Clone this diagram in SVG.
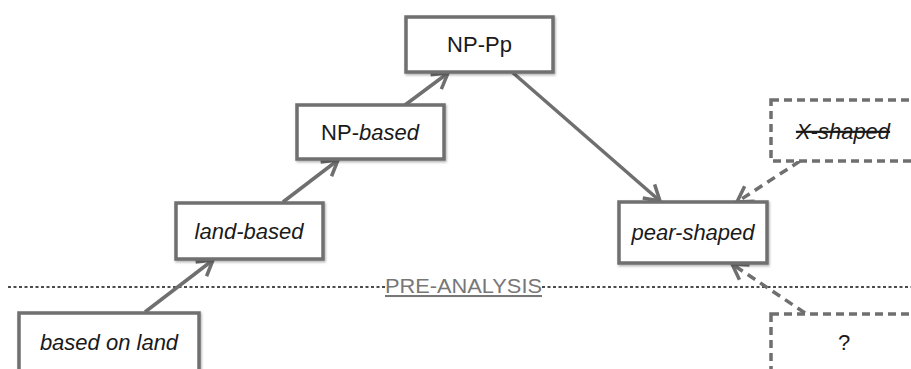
<svg xmlns="http://www.w3.org/2000/svg" width="911" height="369" viewBox="0 0 911 369">
<style>
.box{fill:#fff;stroke:#6f6f6f;stroke-width:3.5;filter:url(#sh)}
.dbox{fill:#fff;stroke:#6f6f6f;stroke-width:3.5;stroke-dasharray:8 5}
.lbl{font-family:"Liberation Sans",Arial,sans-serif;font-size:22px;fill:#1a1a1a;text-anchor:middle;dominant-baseline:central}
.it{font-style:italic}
.edge{stroke:#6f6f6f;stroke-width:3.5;fill:none;marker-end:url(#ah)}
.dash{stroke-dasharray:9 6}
</style>
<defs>
<filter id="sh" x="-10%" y="-10%" width="130%" height="140%">
<feDropShadow dx="1" dy="1.5" stdDeviation="1.2" flood-color="#000" flood-opacity="0.3"/>
</filter>
<marker id="ah" markerUnits="userSpaceOnUse" markerWidth="30" markerHeight="30" refX="0" refY="0" viewBox="-20 -15 25 30" orient="auto">
<path d="M-15,-9 L0,0 L-15,9" fill="none" stroke="#6f6f6f" stroke-width="3.5" stroke-linecap="butt"/>
</marker>
</defs>
<g id="separator">
<line x1="8" y1="287" x2="385" y2="287" stroke="#111" stroke-width="1.5" stroke-dasharray="3 2.5"/>
<line x1="542" y1="287" x2="911" y2="287" stroke="#111" stroke-width="1.5" stroke-dasharray="3 2.5"/>
<text x="463.5" y="293" font-family="'Liberation Sans',Arial,sans-serif" font-size="20.5px" fill="#777" text-anchor="middle" text-decoration="underline" textLength="157" lengthAdjust="spacingAndGlyphs">PRE-ANALYSIS</text>
</g>
<g id="connectors">
<line class="edge" x1="145" y1="312" x2="213" y2="260"/>
<line class="edge" x1="283" y1="202" x2="338" y2="160"/>
<line class="edge" x1="405" y1="105" x2="448" y2="73"/>
<line class="edge" x1="512" y1="72" x2="660" y2="201"/>
<line class="edge dash" x1="800" y1="161" x2="737" y2="202"/>
<line class="edge dash" x1="805" y1="313" x2="732" y2="264"/>
</g>
<g id="based-on-land">
<rect class="box" x="19" y="313" width="180" height="64"/>
<text class="lbl it" x="109" y="342">based on land</text>
</g>
<g id="land-based">
<rect class="box" x="176" y="203" width="147" height="56"/>
<text class="lbl it" x="249" y="231">land-based</text>
</g>
<g id="np-based">
<rect class="box" x="297" y="105" width="147" height="54"/>
<text class="lbl" x="370" y="132">NP-<tspan class="it">based</tspan></text>
</g>
<g id="np-pp">
<rect class="box" x="406" y="17" width="147" height="55"/>
<text class="lbl" x="479.5" y="44">NP-Pp</text>
</g>
<g id="pear-shaped">
<rect class="box" x="619" y="202" width="148" height="61"/>
<text class="lbl it" x="693" y="232">pear-shaped</text>
</g>
<g id="x-shaped">
<rect class="dbox" x="771" y="100" width="150" height="61"/>
<text class="lbl it" x="843" y="131" text-decoration="line-through">X-shaped</text>
</g>
<g id="unknown">
<rect class="dbox" x="771" y="314" width="150" height="62"/>
<text class="lbl" x="844" y="342">?</text>
</g>
</svg>
